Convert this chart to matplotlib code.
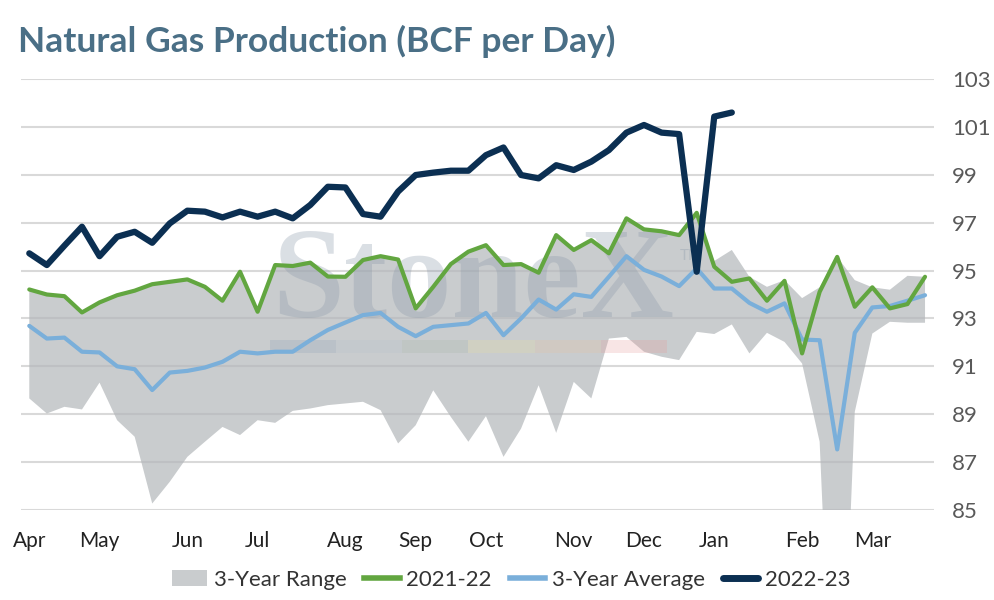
import matplotlib
matplotlib.use("Agg")
import matplotlib.pyplot as plt
from matplotlib.patches import Patch, Rectangle
from matplotlib.lines import Line2D
import numpy as np

plt.rcParams['font.family'] = ['Lato', 'DejaVu Sans']

# ---- data (weekly, April -> March) ----
month_labels = ["Apr", "May", "Jun", "Jul", "Aug", "Sep", "Oct", "Nov", "Dec", "Jan", "Feb", "Mar"]
month_start_week = [0, 4, 9, 13, 18, 22, 26, 31, 35, 39, 44, 48]

range_high = [94.21, 94.0, 93.93, 93.25, 93.67, 93.97, 94.16, 94.43, 94.53, 94.63,
              94.32, 93.74, 94.95, 93.28, 95.23, 95.19, 95.33, 94.75, 94.74, 95.44,
              95.6, 95.46, 93.42, 94.32, 95.27, 95.79, 96.06, 95.23, 95.27, 94.91,
              96.48, 95.86, 96.27, 95.72, 97.18, 96.72, 96.64, 96.48, 97.41, 95.40,
              95.86, 94.74, 94.32, 94.6, 93.85, 94.3, 95.57, 94.6, 94.3, 94.2,
              94.78, 94.74]
range_low = [89.66, 89.03, 89.31, 89.2, 90.32, 88.75, 88.06, 85.27, 86.18, 87.22,
             87.85, 88.47, 88.13, 88.75, 88.64, 89.14, 89.24, 89.38, 89.45, 89.52,
             89.17, 87.78, 88.54, 90.0, 88.89, 87.85, 88.92, 87.22, 88.4, 90.21,
             88.22, 90.35, 89.66, 92.16, 92.23, 91.61, 91.4, 91.26, 92.44, 92.35,
             92.75, 91.54, 92.4, 92.02, 91.12, 87.85, 71.0, 89.1, 92.37, 92.86,
             92.82, 92.82]
prod_2021_22 = [94.21, 94.0, 93.93, 93.25, 93.67, 93.97, 94.16, 94.43, 94.53, 94.63,
                94.32, 93.74, 94.95, 93.28, 95.23, 95.19, 95.33, 94.75, 94.74, 95.44,
                95.6, 95.46, 93.42, 94.32, 95.27, 95.79, 96.06, 95.23, 95.27, 94.91,
                96.48, 95.86, 96.27, 95.72, 97.18, 96.72, 96.64, 96.48, 97.41, 95.16,
                94.53, 94.67, 93.74, 94.57, 91.54, 94.11, 95.57, 93.49, 94.3, 93.42,
                93.6, 94.74]
avg_3yr = [92.69, 92.16, 92.2, 91.61, 91.58, 91.0, 90.88, 90.01, 90.74, 90.81,
           90.95, 91.19, 91.61, 91.54, 91.61, 91.61, 92.09, 92.52, 92.83, 93.14,
           93.23, 92.65, 92.26, 92.65, 92.72, 92.79, 93.23, 92.3, 93.0, 93.79,
           93.37, 94.01, 93.9, 94.74, 95.6, 95.03, 94.75, 94.35, 95.09, 94.25,
           94.25, 93.65, 93.28, 93.63, 92.12, 92.09, 87.53, 92.4, 93.46, 93.52,
           93.74, 93.97]
prod_2022_23 = [95.72, 95.23, 96.04, 96.83, 95.6, 96.41, 96.62, 96.16, 96.97, 97.5,
                97.46, 97.22, 97.46, 97.25, 97.46, 97.18, 97.74, 98.5, 98.47, 97.36,
                97.25, 98.3, 98.99, 99.09, 99.17, 99.17, 99.82, 100.14, 98.99, 98.85,
                99.4, 99.2, 99.55, 100.03, 100.76, 101.08, 100.76, 100.7, 94.95, 101.43,
                101.6]
y_ticks = [85, 87, 89, 91, 93, 95, 97, 99, 101, 103]

# ---- colours ----
c_range = "#b3b7ba"
c_green = "#62a640"
c_blue = "#7aafda"
c_navy = "#0b2f52"
c_title = "#4a6f86"

fig = plt.figure(figsize=(9.94, 6.0), dpi=100)
ax = fig.add_axes([20.5 / 994, 90 / 600, 913.3 / 994, 431 / 600])

x_all = np.arange(len(range_high))
x_cur = np.arange(len(prod_2022_23))

ax.fill_between(x_all, range_low, range_high, color=c_range, alpha=0.71,
                linewidth=0, zorder=2)

# watermark
ax.text(0.495, 0.52, "StoneX", transform=ax.transAxes, fontsize=93,
        family="Liberation Serif", fontweight="bold", color="#8796a8",
        alpha=0.3, ha="center", va="center", zorder=2.2)
ax.text(0.735, 0.59, "TM", transform=ax.transAxes, fontsize=11,
        color="#8c9aab", alpha=0.35, ha="center", va="center", zorder=2.2)
strip_cols = ["#8fa3b8", "#b6c2cc", "#a9b8a8", "#e8dca0", "#e6c3a0", "#e79a9a"]
x0, w = 0.273, 0.0725
for k, sc in enumerate(strip_cols):
    ax.add_patch(Rectangle((x0 + k * w, 0.365), w, 0.03, transform=ax.transAxes,
                           color=sc, alpha=0.25, linewidth=0, zorder=2.1))

ax.plot(x_all, avg_3yr, color=c_blue, lw=3.0, solid_joinstyle="round",
        solid_capstyle="round", zorder=4)
ax.plot(x_all, prod_2021_22, color=c_green, lw=3.0, solid_joinstyle="round",
        solid_capstyle="round", zorder=5)
ax.plot(x_cur, prod_2022_23, color=c_navy, lw=4.5, solid_joinstyle="round",
        solid_capstyle="round", zorder=6)

ax.set_xlim(-0.5, len(range_high) - 0.5)
ax.set_ylim(85, 103)
ax.set_yticks(y_ticks)
ax.yaxis.tick_right()
ax.set_xticks(month_start_week)
ax.set_xticklabels(month_labels)
ax.tick_params(axis="y", length=0, pad=13, labelsize=16, labelcolor="#595959")
ax.tick_params(axis="x", length=0, pad=15, labelsize=15, labelcolor="#222222")
ax.grid(axis="y", color="#d9d9d9", lw=1.5, zorder=1)
ax.grid(axis="x", visible=False)
ax.set_axisbelow(True)
for s in ax.spines.values():
    s.set_visible(False)

fig.text(18 / 994, 1 - 41 / 600, "Natural Gas Production (BCF per Day)",
         fontsize=25.5, fontweight="bold", color=c_title, ha="left", va="center")

handles = [
    Patch(facecolor="#c9ccce", edgecolor="none"),
    Line2D([0], [0], color=c_green, lw=4),
    Line2D([0], [0], color=c_blue, lw=4),
    Line2D([0], [0], color=c_navy, lw=5, solid_capstyle="round"),
]
labels = ["3-Year Range", "2021-22", "3-Year Average", "2022-23"]
fig.legend(handles, labels, loc="center", bbox_to_anchor=(511 / 994, 1 - 580 / 600),
           ncol=4, frameon=False, fontsize=16, handlelength=1.6,
           handletextpad=0.3, columnspacing=0.8, labelcolor="#333333")

fig.savefig("out.png", dpi=100)
